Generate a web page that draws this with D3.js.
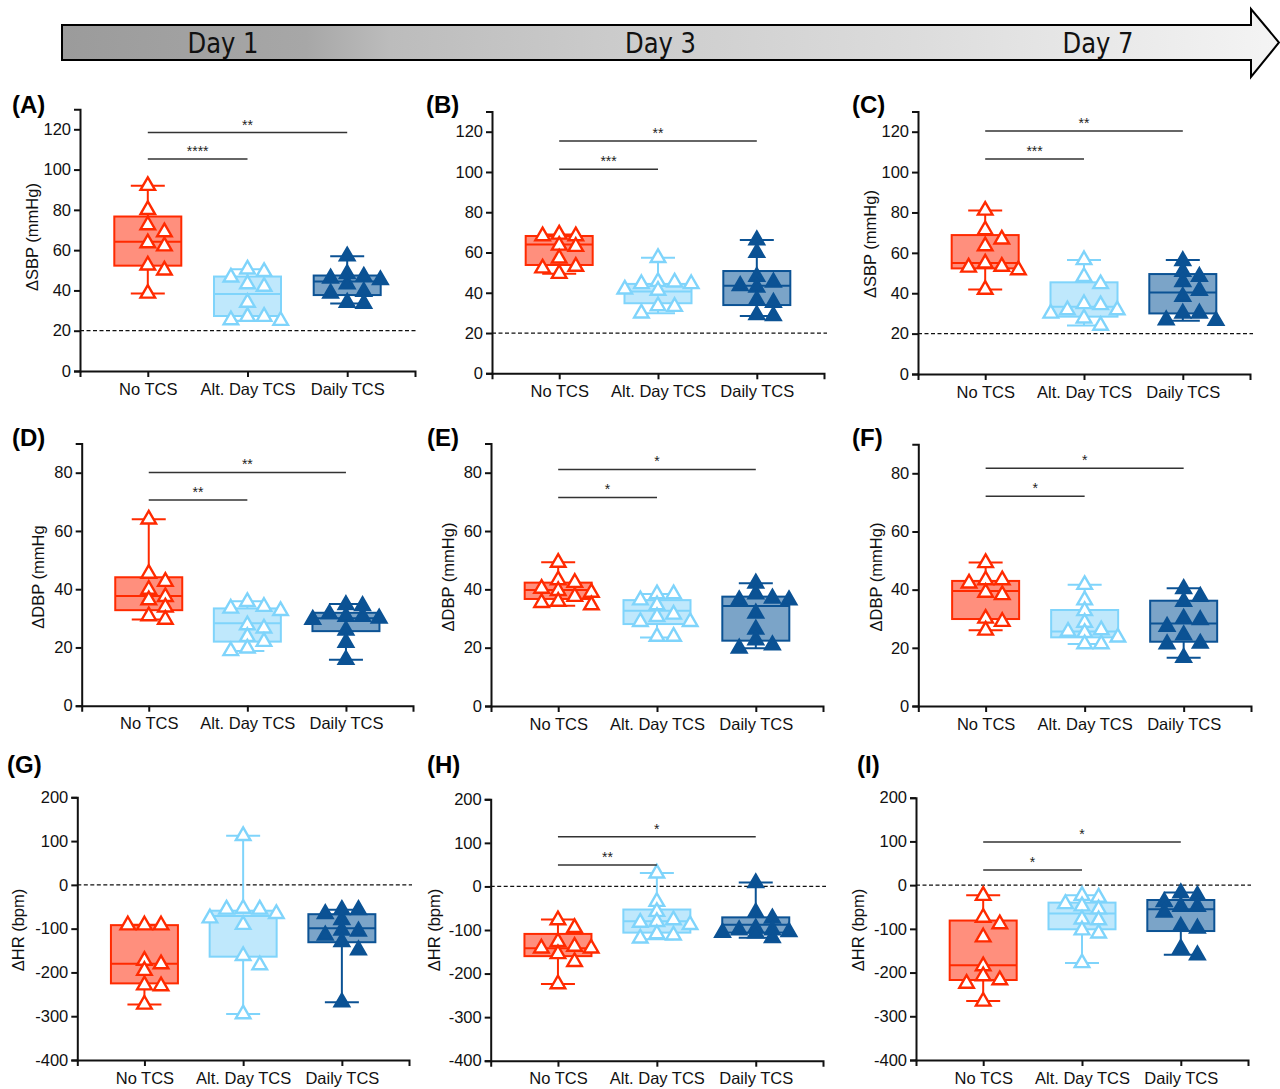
<!DOCTYPE html>
<html>
<head>
<meta charset="utf-8">
<script src="https://cdn.jsdelivr.net/npm/d3@7"></script>
<style>
  body { margin: 0; background: #fff; }
  svg { display: block; font-family: "Liberation Sans", Arial, sans-serif; }
</style>
</head>
<body>
<svg id="chart" width="1280" height="1089"></svg>
<script>
// ---- data ----
const categories = ["No TCS", "Alt. Day TCS", "Daily TCS"];
const days = ["Day 1", "Day 3", "Day 7"];

// individual animals, per group (No TCS, Alt. Day, Daily)
const sbpDay1 = [
  [92, 80, 72.5, 69, 63.5, 62, 52.5, 50, 38.5],
  [50.5, 49.3, 46.5, 43.2, 41.9, 34, 27, 27, 25.3, 25],
  [57, 48.2, 46.9, 46, 45.2, 43.2, 39.4, 38.6, 34, 33.5]
];
const sbpDay3 = [
  [69, 68.2, 68.2, 63.5, 62.9, 57.1, 53, 52.2, 49.5],
  [57.4, 45.5, 45.2, 44.4, 44.4, 41.7, 41.1, 33.4, 33.1, 29.8],
  [66.2, 59.9, 48, 45.2, 43.5, 42.7, 36.4, 35.1, 29, 28.5]
];
const sbpDay7 = [
  [81, 71.3, 66.7, 63.4, 54.8, 53.2, 52.8, 51.5, 41.8],
  [56.5, 48.2, 44.6, 34.7, 34.2, 31.7, 31.7, 30, 27.6, 24],
  [56, 50.7, 48.2, 45.7, 41.3, 38.3, 30, 30, 26.7, 26.4]
];
const dbpDay1 = [
  [64, 45.4, 42.6, 39.9, 37.4, 36.3, 33.8, 30.8, 29.6],
  [35.7, 34, 33.4, 32.6, 27.7, 26.6, 23.7, 22, 19.7, 18.8],
  [34.6, 34.3, 31.5, 30.6, 30.6, 30, 29.6, 25.9, 21.7, 15.8]
];
const dbpDay3 = [
  [49.2, 43.2, 42.3, 40.3, 39.5, 38.9, 37.5, 35.8, 35.4, 34.6],
  [38.4, 38.4, 36.3, 34.6, 31.4, 30.6, 28.9, 28.9, 23.8, 23.8],
  [42.1, 38.4, 36.9, 36.3, 36.3, 31.8, 26.3, 22.6, 20.9, 19.8]
];
const dbpDay7 = [
  [49.2, 43.3, 43.3, 42.2, 39, 38.2, 30.1, 29, 26],
  [41.7, 36.4, 32.7, 28.7, 26.1, 25.6, 25.2, 23.6, 21.3, 21.3],
  [40.3, 37.6, 35.9, 30.1, 29.6, 27.3, 24.4, 21.5, 21.3, 16.6]
];
const hrDay1 = [
  [-92, -92, -92, -173, -181, -196, -229, -231, -273],
  [112, -54, -56, -56, -66, -76, -91, -162, -183, -295],
  [-57, -57, -66, -80, -104, -106, -115, -130, -149, -268]
];
const hrDay3 = [
  [-77, -95, -127, -138, -142, -142, -155, -173, -224],
  [30, -35, -58, -77, -81, -83, -88, -109, -112, -119],
  [8, -60, -73, -96, -100, -100, -104, -106, -107, -118]
];
const hrDay7 = [
  [-24, -74, -89, -119, -185, -208, -217, -225, -266],
  [-24, -28, -43, -48, -55, -78, -80, -103, -110, -178],
  [-18, -24, -38, -49, -49, -62, -95, -99, -145, -160]
];

// box summaries [min, q1, median, q3, max]
const sbpDay1Box = [[38.5, 52.3, 64.2, 76.7, 92], [25, 27.3, 38.2, 46.9, 50.5], [33.5, 37.7, 44.4, 47.4, 57]];
const sbpDay3Box = [[49.5, 53.8, 64, 68.2, 69], [29.8, 34.8, 40.6, 44.4, 57.4], [28.5, 33.9, 43.5, 50.8, 66.2]];
const sbpDay7Box = [[41.8, 52.3, 55, 68.8, 81], [24, 28.4, 33.3, 45.4, 56.5], [26.4, 30, 40.4, 49.5, 56.5]];
const dbpDay1Box = [[29.6, 32.8, 37.7, 44.1, 64], [18.8, 22, 28.3, 33.4, 35.9], [15.8, 25.6, 30, 31.9, 34.9]];
const dbpDay3Box = [[34.4, 36.7, 39.8, 42.3, 49.3], [23.5, 28.1, 32.7, 36.3, 38.4], [19.8, 22.4, 34.3, 37.5, 42.1]];
const dbpDay7Box = [[26, 29.9, 39.5, 43, 49.3], [21.3, 23.6, 25.6, 33, 41.7], [16.6, 22.1, 28.4, 36.2, 40.5]];
const hrDay1Box = [[-273, -225, -180, -92, -91], [-295, -164, -71, -59, 112], [-268, -131, -99, -67, -57]];
const hrDay3Box = [[-224, -160, -142, -109, -76], [-121, -106, -80, -53, 31], [-118, -106, -88, -71, 9]];
const hrDay7Box = [[-265, -217, -183, -81, -23], [-178, -101, -65, -40, -23], [-159, -105, -55, -34, -17]];

// significance bars [target group, y value, label] (always from No TCS)
const sbpDay1Sig = [[1, 105.3, "****"], [2, 118.4, "**"]];
const sbpDay3Sig = [[1, 101.3, "***"], [2, 115.4, "**"]];
const sbpDay7Sig = [[1, 106.5, "***"], [2, 120.3, "**"]];
const dbpDay1Sig = [[1, 70.6, "**"], [2, 80.1, "**"]];
const dbpDay3Sig = [[1, 71.5, "*"], [2, 81.1, "*"]];
const dbpDay7Sig = [[1, 72.1, "*"], [2, 81.7, "*"]];
const hrDay1Sig = [];
const hrDay3Sig = [[1, 49, "**"], [2, 114, "*"]];
const hrDay7Sig = [[1, 34.5, "*"], [2, 98.5, "*"]];

// ---- styles ----
const strokeColors = ["#ff2a00", "#7fd4fb", "#0b5294"];
const fillColors = ["#ff8f7d", "#bfe8fc", "#7ba4c8"];
const markerFill = ["#fff", "#fff", "#0b5294"];

// y axis setups per measure
const measures = {
  sbp: { ticks: d3.range(0, 121, 20), top: 130, ref: 20 },
  dbp: { ticks: d3.range(0, 81, 20), top: 90, ref: null },
  hr:  { ticks: d3.range(-400, 201, 100), top: 200, ref: 0 }
};

// panel layout table
const panels = [
  { tag: "(A)", pts: sbpDay1, box: sbpDay1Box, sig: sbpDay1Sig, m: "sbp", ylab: "ΔSBP (mmHg)", left: 80, right: 415, bottom: 371, topTick: 129.3, lx: 12, ly: 113, yl: [32, 237] },
  { tag: "(B)", pts: sbpDay3, box: sbpDay3Box, sig: sbpDay3Sig, m: "sbp", ylab: null, left: 492, right: 824, bottom: 373.3, topTick: 131.7, lx: 426, ly: 113, yl: null },
  { tag: "(C)", pts: sbpDay7, box: sbpDay7Box, sig: sbpDay7Sig, m: "sbp", ylab: "ΔSBP (mmHg)", left: 918, right: 1250, bottom: 374, topTick: 131.7, lx: 852, ly: 113, yl: [870, 244] },
  { tag: "(D)", pts: dbpDay1, box: dbpDay1Box, sig: dbpDay1Sig, m: "dbp", ylab: "ΔDBP (mmHg", left: 81.7, right: 413, bottom: 705.7, topTick: 472.7, lx: 12, ly: 446, yl: [38, 577] },
  { tag: "(E)", pts: dbpDay3, box: dbpDay3Box, sig: dbpDay3Sig, m: "dbp", ylab: "ΔDBP (mmHg)", left: 491, right: 823, bottom: 706, topTick: 472.7, lx: 427, ly: 446, yl: [448, 577] },
  { tag: "(F)", pts: dbpDay7, box: dbpDay7Box, sig: dbpDay7Sig, m: "dbp", ylab: "ΔDBP (mmHg)", left: 918.3, right: 1251, bottom: 706, topTick: 473.3, lx: 852, ly: 446, yl: [876, 577] },
  { tag: "(G)", pts: hrDay1, box: hrDay1Box, sig: hrDay1Sig, m: "hr", ylab: "ΔHR (bpm)", left: 77.3, right: 409, bottom: 1060, topTick: 797.3, lx: 7, ly: 773, yl: [18, 930] },
  { tag: "(H)", pts: hrDay3, box: hrDay3Box, sig: hrDay3Sig, m: "hr", ylab: "ΔHR (bpm)", left: 490.7, right: 823, bottom: 1060.7, topTick: 799.3, lx: 427, ly: 773, yl: [434, 930] },
  { tag: "(I)", pts: hrDay7, box: hrDay7Box, sig: hrDay7Sig, m: "hr", ylab: "ΔHR (bpm)", left: 916, right: 1248, bottom: 1060, topTick: 797.7, lx: 857, ly: 773, yl: [858, 930] }
];

const svg = d3.select("#chart");

// ---- timeline arrow ----
const defs = svg.append("defs");
const grad = defs.append("linearGradient").attr("id", "dayGrad")
  .attr("gradientUnits", "userSpaceOnUse")
  .attr("x1", 62).attr("x2", 1279).attr("y1", 0).attr("y2", 0);
[[0, "#9b9b9b"], [0.2, "#a7a7a7"], [0.27, "#bcbcbc"], [0.45, "#cbcbcb"], [0.7, "#dcdcdc"], [1, "#f4f4f4"]]
  .forEach(s => grad.append("stop").attr("offset", s[0]).attr("stop-color", s[1]));

svg.append("path")
  .attr("d", "M62,25 H1251 V9 L1279,42.5 L1251,77 V60 H62 Z")
  .attr("fill", "url(#dayGrad)")
  .attr("stroke", "#000")
  .attr("stroke-width", 2);

const dayX = d3.scalePoint().domain(days).range([223, 1098]);
svg.selectAll(".day").data(days).enter().append("text")
  .attr("class", "day")
  .attr("x", d => dayX(d))
  .attr("y", 53)
  .attr("text-anchor", "middle")
  .attr("textLength", 71)
  .attr("lengthAdjust", "spacingAndGlyphs")
  .style("font-family", "'Liberation Sans Narrow', 'DejaVu Sans Condensed', sans-serif")
  .style("font-size", "28px")
  .attr("fill", "#111")
  .text(d => d);

// spreads close values sideways like a column scatter
function dodge(vals, y, step, w, h, maxSteps) {
  const order = vals.map((v, i) => i).sort((a, b) => vals[b] - vals[a]);
  const placed = [];
  const off = new Array(vals.length).fill(0);
  order.forEach(i => {
    const py = y(vals[i]);
    let best = 0, bestHits = Infinity;
    for (let k = 0; k <= maxSteps * 2; k++) {
      const dx = k === 0 ? 0 : (k % 2 ? 1 : -1) * Math.ceil(k / 2) * step;
      const hits = placed.filter(q => Math.abs(q.dx - dx) < w && Math.abs(q.py - py) < h).length;
      if (hits < bestHits) { best = dx; bestHits = hits; }
      if (hits === 0) break;
    }
    off[i] = best;
    placed.push({ dx: best, py });
  });
  return off;
}

const tri = d3.symbol().type(d3.symbolTriangle).size(92);

panels.forEach(p => {
  const m = measures[p.m];
  const t0 = m.ticks[0], t1 = m.ticks[m.ticks.length - 1];
  const yTicks = d3.scaleLinear().domain([t0, t1]).range([p.bottom, p.topTick]);
  const y = d3.scaleLinear().domain([t0, m.top]).range([p.bottom, yTicks(m.top)]);
  const x = d3.scalePoint().domain(categories).range([p.left, p.right]).padding(0.68);

  const g = svg.append("g");

  // reference line
  if (m.ref !== null) {
    g.append("line")
      .attr("x1", p.left).attr("x2", p.right + 3)
      .attr("y1", y(m.ref)).attr("y2", y(m.ref))
      .attr("stroke", "#111").attr("stroke-width", 1.2)
      .attr("stroke-dasharray", "4,2.5");
  }

  // boxes + whiskers
  const bw = 67, cw = 34;
  categories.forEach((c, i) => {
    const [mn, q1, md, q3, mx] = p.box[i];
    const cx = x(c);
    g.append("rect")
      .attr("x", cx - bw / 2).attr("width", bw)
      .attr("y", y(q3)).attr("height", y(q1) - y(q3))
      .attr("fill", fillColors[i])
      .attr("stroke", strokeColors[i]).attr("stroke-width", 2);
    g.append("line")
      .attr("x1", cx - bw / 2).attr("x2", cx + bw / 2)
      .attr("y1", y(md)).attr("y2", y(md))
      .attr("stroke", strokeColors[i]).attr("stroke-width", 2);
    [[q3, mx], [q1, mn]].forEach(([a, b]) => {
      g.append("line")
        .attr("x1", cx).attr("x2", cx)
        .attr("y1", y(a)).attr("y2", y(b))
        .attr("stroke", strokeColors[i]).attr("stroke-width", 2);
      g.append("line")
        .attr("x1", cx - cw / 2).attr("x2", cx + cw / 2)
        .attr("y1", y(b)).attr("y2", y(b))
        .attr("stroke", strokeColors[i]).attr("stroke-width", 2);
    });
  });

  // individual points
  categories.forEach((c, i) => {
    const vals = p.pts[i];
    const off = dodge(vals, y, 8.3, 14, 10, 4);
    g.selectAll(null).data(vals).enter().append("path")
      .attr("d", tri)
      .attr("transform", (d, j) => `translate(${x(c) + off[j]},${y(d)})`)
      .attr("fill", markerFill[i])
      .attr("stroke", strokeColors[i])
      .attr("stroke-width", 2.4)
      .attr("stroke-linejoin", "miter");
  });

  // axes (plain hyphen for negatives, as in the original)
  const ya = g.append("g")
    .attr("transform", `translate(${p.left},0)`)
    .call(d3.axisLeft(y).tickValues(m.ticks).tickFormat(d => String(d))
      .tickSizeOuter(0).tickSize(6).tickPadding(3));
  const xa = g.append("g")
    .attr("transform", `translate(0,${p.bottom})`)
    .call(d3.axisBottom(x).tickSizeOuter(0).tickSize(6).tickPadding(6));
  [ya, xa].forEach(a => {
    a.select(".domain").attr("stroke", "#111").attr("stroke-width", 2);
    a.selectAll(".tick line").attr("stroke", "#111").attr("stroke-width", 2);
    a.selectAll(".tick text").attr("fill", "#111").style("font-size", "16.5px");
  });

  // significance bars
  p.sig.forEach(([to, v, lab]) => {
    const x1 = x(categories[0]), x2 = x(categories[to]);
    g.append("line")
      .attr("x1", x1).attr("x2", x2)
      .attr("y1", y(v)).attr("y2", y(v))
      .attr("stroke", "#333").attr("stroke-width", 1.5);
    g.append("text")
      .attr("x", (x1 + x2) / 2).attr("y", y(v) - 3)
      .attr("text-anchor", "middle")
      .style("font-size", "14px")
      .attr("fill", "#222")
      .text(lab);
  });

  // labels
  g.append("text")
    .attr("x", p.lx).attr("y", p.ly)
    .style("font-size", "24px").style("font-weight", "bold")
    .attr("fill", "#000")
    .text(p.tag);

  if (p.ylab) {
    g.append("text")
      .attr("transform", `translate(${p.yl[0] + 6},${p.yl[1]}) rotate(-90)`)
      .attr("text-anchor", "middle")
      .style("font-size", "16.5px")
      .attr("fill", "#111")
      .text(p.ylab);
  }
});
</script>
</body>
</html>
